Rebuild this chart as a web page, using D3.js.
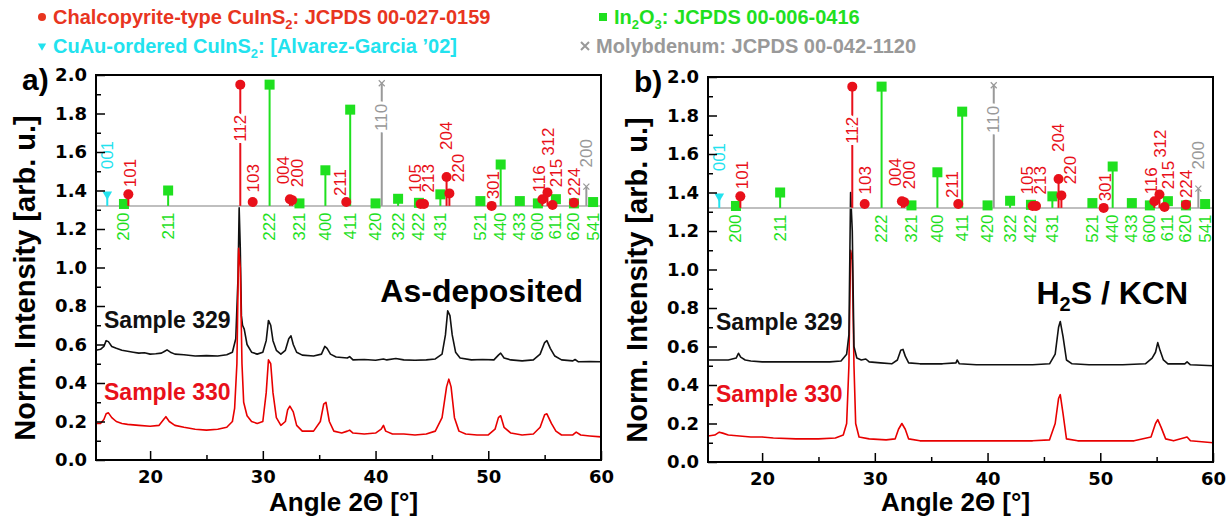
<!DOCTYPE html>
<html>
<head>
<meta charset="utf-8">
<script src="https://cdn.jsdelivr.net/npm/d3@7"></script>
<style>
  body { margin: 0; background: #fff; }
  svg text { font-family: Arial, "Liberation Sans", sans-serif; }
</style>
</head>
<body>
<div id="chart"></div>
<script>
// ---- reference patterns: [hkl, 2theta, stick top] ----
const chalcoPeaks = [
  ['101', 18.07, 1.38], ['112', 28.0, 1.95], ['103', 29.1, 1.34], ['004', 32.4, 1.355],
  ['200', 32.6, 1.35], ['211', 37.4, 1.34], ['105', 44.0, 1.33], ['213', 44.3, 1.33],
  ['204', 46.3, 1.47], ['220', 46.55, 1.385], ['301', 50.3, 1.32], ['116', 54.8, 1.355],
  ['312', 55.25, 1.39], ['215', 55.7, 1.325], ['224', 57.6, 1.337]
];
const in2o3Peaks = [
  ['200', 17.68, 1.33], ['211', 21.6, 1.40], ['222', 30.6, 1.95], ['321', 33.25, 1.333],
  ['400', 35.55, 1.505], ['411', 37.75, 1.82], ['420', 40.0, 1.333], ['322', 42.0, 1.357],
  ['422', 43.85, 1.336], ['431', 45.75, 1.38], ['521', 49.3, 1.345], ['440', 51.1, 1.535],
  ['433', 52.8, 1.345], ['600', 54.4, 1.333], ['611', 56.0, 1.355], ['620', 57.6, 1.333],
  ['541', 59.3, 1.34]
];
const cuauPeaks = [['001', 16.2, 1.38]];
const moPeaks = [['110', 40.55, 1.957], ['200', 58.7, 1.42]];
const stickBase = 1.32;

// label anchors above the sticks (2theta, intensity); 'mid' = written on the stick
const labelAnchors = {
  'c101': [18.28, 1.417], 'c112': [28.0, 1.723, 'mid'], 'c103': [29.16, 1.39],
  'c004': [31.82, 1.432], 'c200': [33.1, 1.417], 'c211': [36.85, 1.371],
  'c105': [43.5, 1.39], 'c213': [44.66, 1.39], 'c204': [46.32, 1.611],
  'c220': [47.32, 1.443], 'c301': [50.43, 1.354], 'c116': [54.5, 1.39],
  'c312': [55.3, 1.58], 'c215': [56.08, 1.417], 'c224': [57.61, 1.371],
  'u001': [16.2, 1.51], 'm110': [40.55, 1.78, 'mid'], 'm200': [58.68, 1.52]
};
const in2o3LabelTop = 1.286;

// ---- measured patterns [2theta, norm. intensity] ----
const asDep329 = [[15.2,0.57],[15.6,0.575],[15.9,0.59],[16.1,0.62],[16.3,0.615],[16.6,0.59],[17.0,0.58],[17.5,0.57],[18.0,0.565],[18.5,0.56],[19.0,0.555],[19.5,0.557],[20.0,0.55],[20.5,0.552],[21.0,0.555],[21.3,0.565],[21.5,0.572],[21.8,0.56],[22.2,0.55],[23.0,0.547],[24.0,0.54],[25.0,0.542],[26.0,0.54],[26.8,0.547],[27.3,0.56],[27.6,0.63],[27.8,0.95],[27.9,1.31],[28.0,1.1],[28.1,0.75],[28.2,0.70],[28.35,0.68],[28.6,0.6],[29.0,0.56],[29.5,0.55],[30.0,0.56],[30.3,0.62],[30.5,0.725],[30.7,0.70],[30.9,0.62],[31.2,0.57],[31.6,0.55],[32.0,0.57],[32.3,0.63],[32.5,0.645],[32.7,0.6],[33.0,0.56],[33.5,0.545],[34.5,0.54],[35.2,0.55],[35.5,0.59],[35.7,0.58],[36.0,0.55],[36.5,0.535],[37.5,0.53],[37.7,0.537],[38.0,0.52],[39.0,0.522],[40.0,0.518],[40.7,0.525],[41.0,0.52],[41.8,0.527],[42.5,0.52],[43.5,0.518],[44.5,0.52],[45.3,0.525],[45.9,0.55],[46.2,0.65],[46.4,0.775],[46.6,0.75],[46.8,0.65],[47.1,0.56],[47.5,0.53],[48.5,0.52],[49.5,0.522],[50.5,0.52],[50.9,0.545],[51.1,0.555],[51.4,0.53],[52.0,0.52],[53.0,0.515],[54.0,0.52],[54.6,0.55],[55.0,0.61],[55.2,0.62],[55.5,0.58],[55.9,0.54],[56.5,0.52],[57.5,0.515],[57.7,0.522],[58.0,0.51],[59.0,0.512],[60.0,0.51]];
const asDep330 = [[15.2,0.19],[15.6,0.19],[15.9,0.21],[16.1,0.24],[16.3,0.245],[16.6,0.22],[17.0,0.20],[17.5,0.19],[18.0,0.185],[19.0,0.18],[20.0,0.175],[20.8,0.18],[21.2,0.21],[21.4,0.225],[21.7,0.2],[22.2,0.18],[23.0,0.17],[24.0,0.16],[25.0,0.155],[26.0,0.16],[26.8,0.17],[27.3,0.2],[27.5,0.27],[27.7,0.5],[27.85,1.1],[28.0,1.0],[28.15,0.5],[28.3,0.3],[28.6,0.23],[29.0,0.2],[29.5,0.19],[30.0,0.2],[30.3,0.35],[30.5,0.52],[30.7,0.5],[30.9,0.35],[31.2,0.22],[31.6,0.18],[32.0,0.2],[32.2,0.26],[32.4,0.28],[32.7,0.25],[33.0,0.18],[33.5,0.15],[34.5,0.15],[35.1,0.2],[35.4,0.29],[35.6,0.3],[35.9,0.2],[36.3,0.15],[37.0,0.14],[37.5,0.15],[37.7,0.155],[38.0,0.14],[39.0,0.135],[40.0,0.14],[40.5,0.16],[40.7,0.18],[40.9,0.15],[41.5,0.135],[42.5,0.135],[43.5,0.13],[44.5,0.135],[45.3,0.15],[45.9,0.22],[46.3,0.38],[46.5,0.42],[46.7,0.38],[47.0,0.22],[47.4,0.15],[48.0,0.135],[49.0,0.13],[50.0,0.13],[50.6,0.16],[50.9,0.22],[51.1,0.23],[51.4,0.17],[52.0,0.14],[53.0,0.13],[54.0,0.135],[54.6,0.17],[55.0,0.235],[55.2,0.24],[55.6,0.19],[56.0,0.15],[56.5,0.13],[57.5,0.13],[57.8,0.145],[58.2,0.13],[59.0,0.125],[60.0,0.12]];
const kcn329 = [[15.2,0.53],[16.0,0.53],[17.0,0.53],[17.7,0.54],[17.9,0.565],[18.1,0.545],[18.5,0.53],[19.0,0.525],[20.0,0.52],[22.0,0.52],[24.0,0.52],[26.0,0.52],[27.0,0.525],[27.5,0.56],[27.7,0.66],[27.85,1.4],[28.0,1.2],[28.15,0.6],[28.4,0.54],[28.8,0.53],[29.2,0.535],[29.5,0.52],[30.5,0.515],[31.5,0.51],[32.0,0.53],[32.3,0.58],[32.5,0.585],[32.7,0.55],[33.0,0.515],[34.0,0.51],[36.0,0.51],[37.2,0.515],[37.3,0.53],[37.5,0.51],[39.0,0.505],[42.0,0.505],[44.0,0.505],[45.5,0.51],[46.0,0.56],[46.3,0.7],[46.45,0.73],[46.7,0.65],[47.0,0.53],[47.5,0.51],[49.0,0.505],[52.0,0.505],[54.0,0.51],[54.6,0.54],[54.9,0.57],[55.1,0.62],[55.3,0.58],[55.6,0.53],[56.0,0.51],[57.5,0.51],[57.7,0.52],[58.0,0.505],[60.0,0.50]];
const kcn330 = [[15.2,0.135],[15.8,0.14],[16.2,0.155],[16.5,0.15],[17.0,0.14],[18.0,0.135],[19.0,0.13],[20.0,0.13],[21.0,0.125],[23.0,0.12],[25.0,0.12],[26.5,0.125],[27.2,0.14],[27.5,0.2],[27.7,0.5],[27.85,1.1],[28.0,1.05],[28.15,0.5],[28.3,0.2],[28.6,0.13],[29.5,0.12],[31.0,0.115],[31.8,0.12],[32.1,0.17],[32.4,0.2],[32.7,0.17],[33.0,0.12],[34.0,0.11],[36.0,0.11],[38.0,0.11],[40.0,0.11],[42.0,0.11],[44.0,0.11],[45.5,0.115],[46.0,0.2],[46.3,0.33],[46.45,0.35],[46.7,0.25],[47.0,0.12],[48.0,0.11],[50.0,0.11],[53.0,0.11],[54.5,0.13],[54.9,0.2],[55.1,0.22],[55.4,0.18],[55.8,0.12],[56.5,0.11],[57.7,0.13],[58.0,0.11],[59.0,0.105],[60.0,0.10]];

const xDomain = [15.2, 60];
const yDomain = [0, 2.0];
const xMajorTicks = [20, 30, 40, 50, 60];
const xMinorTicks = [25, 35, 45, 55];

const RED = '#e8101a', GREEN = '#1fe01f', CYAN = '#22e2ee', GREY = '#999999';

class XrdPanel {
  constructor(svg, config) {
    this.svg = svg;
    this.config = config;
    this.margins = svg.append('g')
      .attr('transform', `translate(${config.left},${config.top})`);
    this.xScale = d3.scaleLinear().domain(xDomain).range([0, config.width]);
    this.yScale = d3.scaleLinear().domain(yDomain).range([config.height, 0]);
  }

  createAxis() {
    const c = this.config;
    const yMajor = d3.range(0, 2.01, 0.2);
    const yMinor = d3.range(0.1, 2.0, 0.2);

    let yAxis = d3.axisLeft(this.yScale).tickValues(yMajor)
      .tickFormat(d3.format('.1f')).tickSize(-9).tickPadding(9);
    let yAxisMinor = d3.axisLeft(this.yScale).tickValues(yMinor)
      .tickFormat('').tickSize(-5);
    let xAxis = d3.axisBottom(this.xScale).tickValues(xMajorTicks)
      .tickFormat(d3.format('d')).tickSize(-9).tickPadding(10);
    let xAxisMinor = d3.axisBottom(this.xScale).tickValues(xMinorTicks)
      .tickFormat('').tickSize(-5);

    [yAxis, yAxisMinor].forEach(ax => {
      this.margins.append('g').call(ax).call(g => g.select('.domain').remove());
    });
    [xAxis, xAxisMinor].forEach(ax => {
      this.margins.append('g').attr('transform', `translate(0,${c.height})`)
        .call(ax).call(g => g.select('.domain').remove());
    });
    this.margins.selectAll('.tick line').attr('stroke', '#000').attr('stroke-width', 1.5);
    this.margins.selectAll('.tick text')
      .attr('font-size', 18).attr('font-weight', 'bold').attr('fill', '#000')
      .style('font-family', '"DejaVu Sans", Verdana, sans-serif');

    this.margins.append('rect')
      .attr('width', c.width).attr('height', c.height)
      .attr('fill', 'none').attr('stroke', '#000').attr('stroke-width', 2);

    this.svg.append('text')
      .attr('transform', `translate(${c.left + c.width / 2 - 5},511)`)
      .attr('text-anchor', 'middle').attr('font-size', 26).attr('font-weight', 'bold')
      .text('Angle 2\u0398 [\u00b0]');

    this.svg.append('text')
      .attr('transform', `translate(${c.left - 61},${c.top + 203}) rotate(-90)`)
      .attr('text-anchor', 'middle').attr('font-size', 29).attr('font-weight', 'bold')
      .text('Norm. Intensity [arb. u.]');

    this.svg.append('text')
      .attr('x', c.left - 74).attr('y', c.top + 15)
      .attr('font-size', 30).attr('font-weight', 'bold')
      .text(c.tag);
  }

  renderTraces(traces) {
    let line = d3.line()
      .x(d => this.xScale(d[0]))
      .y(d => this.yScale(d[1]));
    traces.forEach(t => {
      this.margins.append('path')
        .datum(t.values)
        .attr('d', line)
        .attr('fill', 'none')
        .attr('stroke', t.color)
        .attr('stroke-width', 1.6)
        .attr('stroke-linejoin', 'round');
    });
  }

  renderSticks() {
    const g = this.margins.append('g');
    const base = this.yScale(stickBase);

    g.append('line')
      .attr('x1', 0).attr('x2', this.config.width)
      .attr('y1', base).attr('y2', base)
      .attr('stroke', '#aaa').attr('stroke-width', 1.5);

    const phases = [
      {key: 'g', peaks: in2o3Peaks, color: GREEN, marker: 'square'},
      {key: 'm', peaks: moPeaks, color: GREY, marker: 'times'},
      {key: 'u', peaks: cuauPeaks, color: CYAN, marker: 'tri'},
      {key: 'c', peaks: chalcoPeaks, color: RED, marker: 'circle'}
    ];

    phases.forEach(ph => {
      g.selectAll(null).data(ph.peaks).join('line')
        .attr('x1', d => this.xScale(d[1])).attr('x2', d => this.xScale(d[1]))
        .attr('y1', base).attr('y2', d => this.yScale(d[2]))
        .attr('stroke', ph.color).attr('stroke-width', 2);

      let sel = g.selectAll(null).data(ph.peaks).join('g')
        .attr('transform', d => `translate(${this.xScale(d[1])},${this.yScale(d[2])})`);
      if (ph.marker === 'circle') {
        sel.append('circle').attr('r', 5).attr('fill', ph.color);
      } else if (ph.marker === 'square') {
        sel.append('rect').attr('x', -5).attr('y', -5).attr('width', 10).attr('height', 10)
          .attr('fill', ph.color);
      } else if (ph.marker === 'tri') {
        sel.append('path').attr('d', d3.symbol(d3.symbolTriangle, 40)())
          .attr('transform', 'rotate(180)').attr('fill', ph.color);
      } else {
        sel.append('path').attr('d', 'M-3,-3L3,3M-3,3L3,-3')
          .attr('stroke', ph.color).attr('stroke-width', 1.2);
      }
    });

    // In2O3 labels below the base line
    g.selectAll(null).data(in2o3Peaks).join('text')
      .attr('transform', d => `translate(${this.xScale(d[1])},${this.yScale(in2o3LabelTop)}) rotate(-90)`)
      .attr('text-anchor', 'end').attr('dominant-baseline', 'central')
      .attr('font-size', 17).attr('fill', GREEN)
      .text(d => d[0]);

    // other labels above
    const above = [];
    chalcoPeaks.forEach(d => above.push({id: 'c' + d[0], text: d[0], color: RED}));
    cuauPeaks.forEach(d => above.push({id: 'u' + d[0], text: d[0], color: CYAN}));
    moPeaks.forEach(d => above.push({id: 'm' + d[0], text: d[0], color: GREY}));

    g.selectAll(null).data(above).join('text')
      .attr('transform', d => {
        const a = labelAnchors[d.id];
        return `translate(${this.xScale(a[0])},${this.yScale(a[1])}) rotate(-90)`;
      })
      .attr('text-anchor', d => labelAnchors[d.id][2] === 'mid' ? 'middle' : 'start')
      .attr('dominant-baseline', 'central')
      .attr('font-size', 17).attr('fill', d => d.color)
      .attr('stroke', d => labelAnchors[d.id][2] === 'mid' ? '#fff' : 'none')
      .attr('stroke-width', 6).attr('paint-order', 'stroke')
      .text(d => d.text);
  }

  renderText() {
    const c = this.config;
    const title = this.margins.append('text')
      .attr('x', c.width - c.titleRight).attr('y', 227)
      .attr('text-anchor', 'end').attr('font-size', 32).attr('font-weight', 'bold');
    c.title.forEach(p => {
      let t = title.append('tspan').text(p.t);
      if (p.sub) t.attr('font-size', 20).attr('dy', 7);
      if (p.up) t.attr('dy', -7);
    });

    this.margins.append('text').attr('x', 8).attr('y', 253)
      .attr('font-size', 23).attr('font-weight', 'bold').attr('fill', '#111')
      .text('Sample 329');
    this.margins.append('text').attr('x', 8).attr('y', 325)
      .attr('font-size', 23).attr('font-weight', 'bold').attr('fill', RED)
      .text('Sample 330');
  }
}

function drawLegend(svg) {
  const items = [
    {x: 42, y: 17, color: '#e8351f', marker: 'circle',
     parts: [{t: 'Chalcopyrite-type CuInS'}, {t: '2', sub: true}, {t: ': JCPDS 00-027-0159', up: true}]},
    {x: 603, y: 17, color: GREEN, marker: 'square',
     parts: [{t: 'In'}, {t: '2', sub: true}, {t: 'O', up: true}, {t: '3', sub: true}, {t: ': JCPDS 00-006-0416', up: true}]},
    {x: 42, y: 46, color: CYAN, marker: 'tri',
     parts: [{t: 'CuAu-ordered CuInS'}, {t: '2', sub: true}, {t: ': [Alvarez-Garcia \u201902]', up: true}]},
    {x: 585, y: 46, color: GREY, marker: 'times',
     parts: [{t: 'Molybdenum: JCPDS 00-042-1120'}]}
  ];
  items.forEach(it => {
    const g = svg.append('g').attr('transform', `translate(${it.x},${it.y})`);
    if (it.marker === 'circle') g.append('circle').attr('r', 4).attr('fill', it.color);
    if (it.marker === 'square') g.append('rect').attr('x', -4).attr('y', -4).attr('width', 8).attr('height', 8).attr('fill', it.color);
    if (it.marker === 'tri') g.append('path').attr('d', d3.symbol(d3.symbolTriangle, 30)()).attr('transform', 'rotate(180)').attr('fill', it.color);
    if (it.marker === 'times') g.append('path').attr('d', 'M-4,-4L4,4M-4,4L4,-4').attr('stroke', it.color).attr('stroke-width', 2);
    const t = g.append('text').attr('x', 11).attr('y', 7)
      .attr('font-size', 20).attr('font-weight', 'bold').attr('fill', it.color);
    it.parts.forEach(p => {
      let s = t.append('tspan').text(p.t);
      if (p.sub) s.attr('font-size', 13).attr('dy', 5);
      if (p.up) s.attr('dy', -5);
    });
  });
}

function main() {
  const svg = d3.select('#chart').append('svg')
    .attr('width', 1228).attr('height', 519);

  drawLegend(svg);

  const left = new XrdPanel(svg, {left: 96, top: 75, width: 505, height: 385, tag: 'a)',
    titleRight: 18, title: [{t: 'As-deposited'}]});
  left.renderTraces([{values: asDep329, color: '#111'}, {values: asDep330, color: '#e80000'}]);
  left.renderSticks();
  left.createAxis();
  left.renderText();

  const right = new XrdPanel(svg, {left: 708, top: 77, width: 505, height: 385, tag: 'b)',
    titleRight: 25, title: [{t: 'H'}, {t: '2', sub: true}, {t: 'S / KCN', up: true}]});
  right.renderTraces([{values: kcn330, color: '#e80000'}, {values: kcn329, color: '#111'}]);
  right.renderSticks();
  right.createAxis();
  right.renderText();
}

main();
</script>
</body>
</html>
